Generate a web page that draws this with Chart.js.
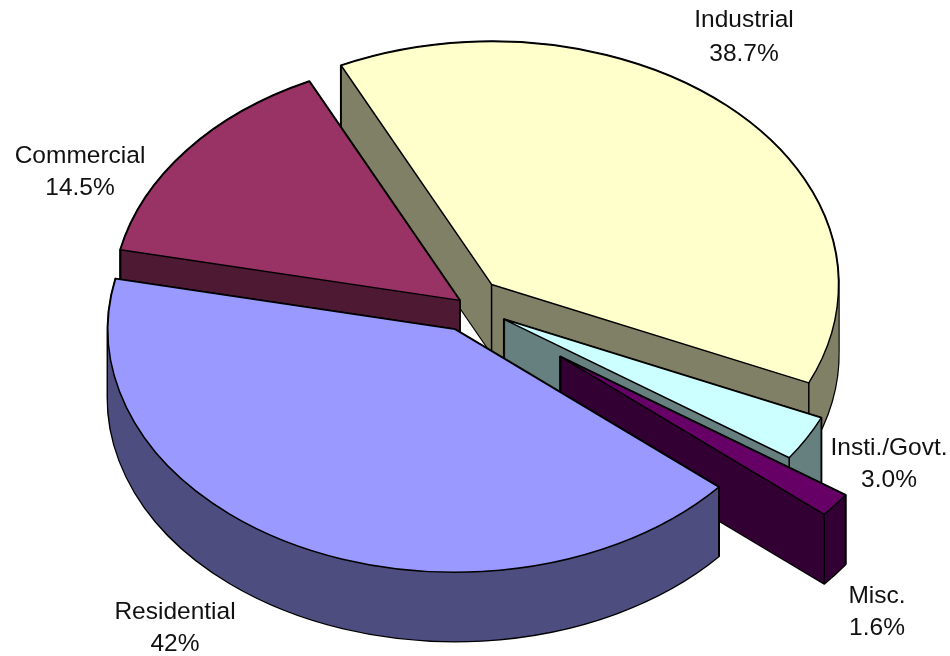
<!DOCTYPE html>
<html>
<head>
<meta charset="utf-8">
<style>html,body{margin:0;padding:0;background:#fff}canvas{display:block}</style>
<script src="https://cdn.jsdelivr.net/npm/chart.js@4"></script>
</head>
<body>
<canvas id="c" width="950" height="656"></canvas>
<script>
const categories = ['Residential', 'Commercial', 'Industrial', 'Insti./Govt.', 'Misc.'];
const shares = [42, 14.5, 38.7, 3.0, 1.6];
const shareLabels = ['42%', '14.5%', '38.7%', '3.0%', '1.6%'];
const topColors = ['#9999FF', '#993366', '#FFFFCC', '#CCFFFF', '#660066'];
const wallColors = ['#4D4D80', '#4D1933', '#808066', '#668080', '#330033'];
const explode = [34, 13, 31, 39, 114];
const lift = [2, 0, -6, 0, 2];
const paintOrder = [2, 1, 3, 4, 0];
const labelAnchors = [[175, 619, 651], [80, 163, 195], [744, 27, 60.5], [889, 455, 487], [877, 603, 635]];

const pie3d = {
  id: 'pie3d',
  beforeDatasetsDraw(chart, args, o) {
    const ctx = chart.ctx, els = chart.getDatasetMeta(0).data;
    for (const i of paintOrder) {
      const el = els[i];
      const sx = o.radiusX / el.outerRadius, sy = sx * o.squash;
      const mid = (el.startAngle + el.endAngle) / 2;
      const ox = o.centerX + Math.cos(mid) * explode[i];
      const oy = o.centerY + Math.sin(mid) * explode[i] * o.squash + lift[i];
      const place = (dz) => {
        ctx.translate(ox, oy + dz);
        ctx.scale(sx, sy);
        ctx.translate(-el.x, -el.y);
      };
      const addSector = (dz) => {
        ctx.save();
        place(dz);
        ctx.moveTo(el.x, el.y);
        ctx.arc(el.x, el.y, el.outerRadius, el.startAngle, el.endAngle);
        ctx.closePath();
        ctx.restore();
      };
      // extruded wall as one path: black silhouette first, then the wall colour
      ctx.beginPath();
      for (let d = o.depth; d >= 0; d -= 0.25) addSector(d);
      ctx.lineJoin = 'round';
      ctx.strokeStyle = '#000';
      ctx.lineWidth = 2.4;
      ctx.stroke();
      ctx.fillStyle = wallColors[i];
      ctx.fill();
      // vertical edges at the slice corners
      const corner = (a, r) => ({ x: ox + Math.cos(a) * r * sx, y: oy + Math.sin(a) * r * sy });
      ctx.lineWidth = 1.5;
      for (const p of [corner(0, 0), corner(el.startAngle, el.outerRadius), corner(el.endAngle, el.outerRadius)]) {
        ctx.beginPath();
        ctx.moveTo(p.x, p.y);
        ctx.lineTo(p.x, p.y + o.depth);
        ctx.stroke();
      }
      // top face
      ctx.save();
      place(0);
      el.draw(ctx);
      ctx.restore();
      ctx.beginPath();
      addSector(0);
      ctx.lineWidth = 1.5;
      ctx.stroke();
    }
    return false;
  },
  afterDraw(chart) {
    const ctx = chart.ctx;
    ctx.save();
    ctx.fillStyle = '#111';
    ctx.font = '24.5px "Liberation Sans", Arial, sans-serif';
    ctx.textAlign = 'center';
    ctx.textBaseline = 'alphabetic';
    categories.forEach((name, i) => {
      const [x, y1, y2] = labelAnchors[i];
      ctx.fillText(name, x, y1);
      ctx.fillText(shareLabels[i], x, y2);
    });
    ctx.restore();
  }
};

new Chart(document.getElementById('c'), {
  type: 'pie',
  plugins: [pie3d],
  data: {
    labels: categories,
    datasets: [{ data: shares, backgroundColor: topColors, borderWidth: 0 }]
  },
  options: {
    responsive: false,
    animation: false,
    rotation: 130.5,
    layout: { padding: 0 },
    plugins: {
      legend: { display: false },
      tooltip: { enabled: false },
      pie3d: { centerX: 470, centerY: 306, radiusX: 347, squash: 0.7, depth: 69 }
    }
  }
});
</script>
</body>
</html>
